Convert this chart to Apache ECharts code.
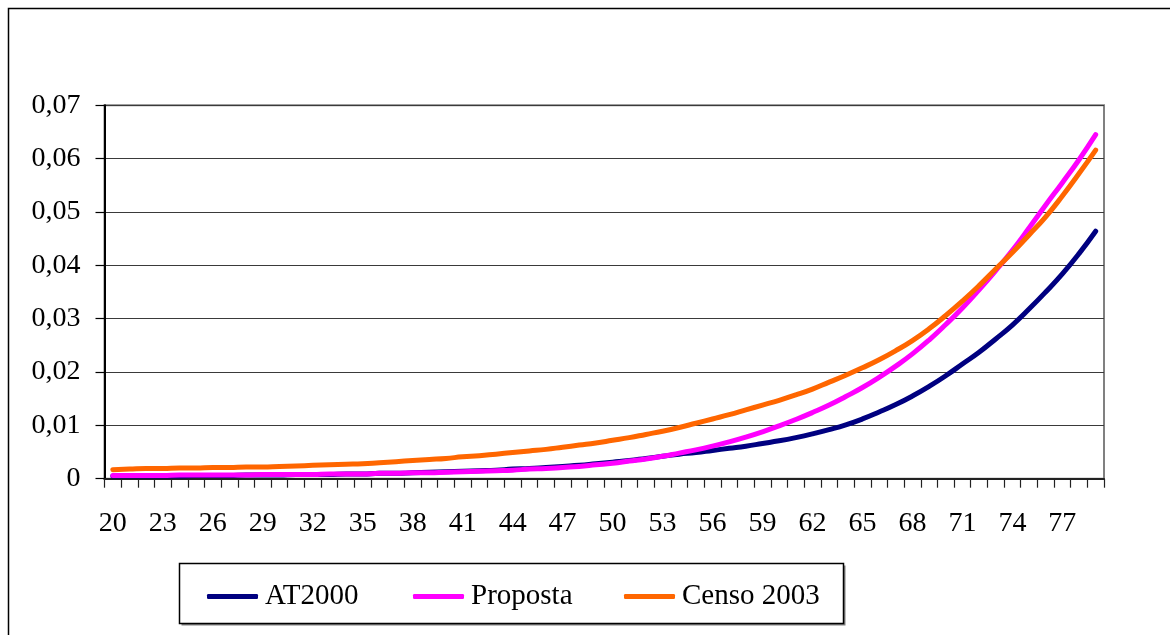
<!DOCTYPE html>
<html>
<head>
<meta charset="utf-8">
<title>Taxas de mortalidade</title>
<script src="https://cdn.jsdelivr.net/npm/echarts@6/dist/echarts.min.js"></script>
<style>
  html, body { margin: 0; padding: 0; background: #ffffff; }
  #chart { width: 1170px; height: 635px; }
</style>
</head>
<body>
<div id="chart"></div>
<script>
// Idades 20 a 79
const ages = [];
for (let a = 20; a <= 79; a++) ages.push(String(a));

// Taxas de mortalidade por idade (qx)
const at2000 = [
  0.0005, 0.0005, 0.0005, 0.0005, 0.0005, 0.0006, 0.0006, 0.0006, 0.0007, 0.0007,
  0.0007, 0.0008, 0.0008, 0.0008, 0.0009, 0.0009, 0.0010, 0.0010, 0.0011, 0.0012,
  0.0013, 0.0014, 0.0015, 0.0016, 0.0018, 0.0019, 0.0021, 0.0023, 0.0025, 0.0028,
  0.0031, 0.0034, 0.0038, 0.0042, 0.0046, 0.0049, 0.0053, 0.0057, 0.0061, 0.0066,
  0.0071, 0.0077, 0.0084, 0.0092, 0.0101, 0.0112, 0.0125, 0.0139, 0.0155, 0.0173,
  0.0193, 0.0215, 0.0237, 0.0262, 0.0288, 0.0318, 0.0350, 0.0384, 0.0422, 0.0464
];
const proposta = [
  0.0006, 0.0006, 0.0006, 0.0006, 0.0007, 0.0007, 0.0007, 0.0007, 0.0007, 0.0008,
  0.0008, 0.0008, 0.0008, 0.0009, 0.0009, 0.0009, 0.0010, 0.0010, 0.0011, 0.0011,
  0.0012, 0.0013, 0.0014, 0.0015, 0.0016, 0.0018, 0.0019, 0.0021, 0.0023, 0.0026,
  0.0029, 0.0033, 0.0037, 0.0042, 0.0048, 0.0054, 0.0061, 0.0069, 0.0078, 0.0088,
  0.0099, 0.0111, 0.0124, 0.0138, 0.0154, 0.0171, 0.0190, 0.0211, 0.0234, 0.0260,
  0.0289, 0.0320, 0.0354, 0.0390, 0.0428, 0.0470, 0.0513, 0.0555, 0.0598, 0.0645
];
const censo2003 = [
  0.0017, 0.0018, 0.0019, 0.0019, 0.0020, 0.0020, 0.0021, 0.0021, 0.0022, 0.0022,
  0.0023, 0.0024, 0.0025, 0.0026, 0.0027, 0.0028, 0.0030, 0.0032, 0.0034, 0.0036,
  0.0038, 0.0041, 0.0043, 0.0046, 0.0049, 0.0052, 0.0055, 0.0059, 0.0063, 0.0067,
  0.0072, 0.0077, 0.0083, 0.0089, 0.0096, 0.0104, 0.0112, 0.0120, 0.0129, 0.0138,
  0.0147, 0.0157, 0.0168, 0.0181, 0.0194, 0.0208, 0.0223, 0.0240, 0.0259, 0.0281,
  0.0306, 0.0333, 0.0362, 0.0393, 0.0424, 0.0457, 0.0491, 0.0530, 0.0572, 0.0616
];

const seriesNames = ['AT2000', 'Proposta', 'Censo 2003'];
const seriesColors = ['#000080', '#FF00FF', '#FF6600'];
const seriesData = [at2000, proposta, censo2003];

const FONT = '"Liberation Serif", "DejaVu Serif", serif';

const chart = echarts.init(document.getElementById('chart'), null, { renderer: 'canvas' });

const legendLeft = [207, 413, 624];

chart.setOption({
  backgroundColor: '#ffffff',
  animation: false,
  graphic: [
    // moldura externa
    { type: 'rect', z: -10, silent: true,
      shape: { x: 8.5, y: 8.5, width: 1300, height: 800 },
      style: { fill: '#ffffff', stroke: '#000000', lineWidth: 1.5 } },
    // caixa da legenda com sombra
    { type: 'rect', z: 1, silent: true,
      shape: { x: 181.5, y: 565.5, width: 664, height: 60 },
      style: { fill: '#808080', stroke: null } },
    { type: 'rect', z: 2, silent: true,
      shape: { x: 179.5, y: 563.5, width: 664, height: 60 },
      style: { fill: '#ffffff', stroke: '#000000', lineWidth: 1.5 } }
  ],
  grid: {
    left: 104.5, right: 66, top: 105.3, bottom: 156.3,
    show: true, borderColor: '#808080', borderWidth: 2, backgroundColor: 'transparent'
  },
  legend: seriesNames.map((name, i) => ({
    data: [name],
    left: legendLeft[i],
    top: 582,
    padding: 0,
    z: 10,
    icon: 'roundRect',
    itemWidth: 51,
    itemHeight: 5,
    itemGap: 0,
    selectedMode: false,
    textStyle: { fontFamily: FONT, fontSize: 29, color: '#000000', padding: [0, 0, 0, 2] }
  })),
  xAxis: {
    type: 'category',
    data: ages,
    boundaryGap: true,
    axisLine: { show: true, lineStyle: { color: '#222222', width: 2 } },
    axisTick: { show: true, interval: 0, length: 9, lineStyle: { color: '#222222', width: 1.2 } },
    axisLabel: {
      interval: 2, margin: 31, color: '#000000',
      fontFamily: FONT, fontSize: 28
    },
    splitLine: { show: false }
  },
  yAxis: {
    type: 'value',
    min: 0, max: 0.07, interval: 0.01,
    axisLine: { show: true, lineStyle: { color: '#000000', width: 2 } },
    axisTick: { show: true, length: 9, lineStyle: { color: '#000000', width: 1.2 } },
    axisLabel: {
      margin: 24, color: '#000000', fontFamily: FONT, fontSize: 28,
      formatter: v => (v === 0 ? '0' : v.toFixed(2).replace('.', ','))
    },
    splitLine: { show: true, lineStyle: { color: '#3a3a3a', width: 1.2 } }
  },
  series: seriesNames.map((name, i) => ({
    name: name,
    type: 'line',
    data: seriesData[i],
    smooth: 0.5,
    symbol: 'none',
    z: 3 + i,
    lineStyle: { color: seriesColors[i], width: 5, cap: 'round', join: 'round' },
    itemStyle: { color: seriesColors[i] }
  }))
});
</script>
</body>
</html>
